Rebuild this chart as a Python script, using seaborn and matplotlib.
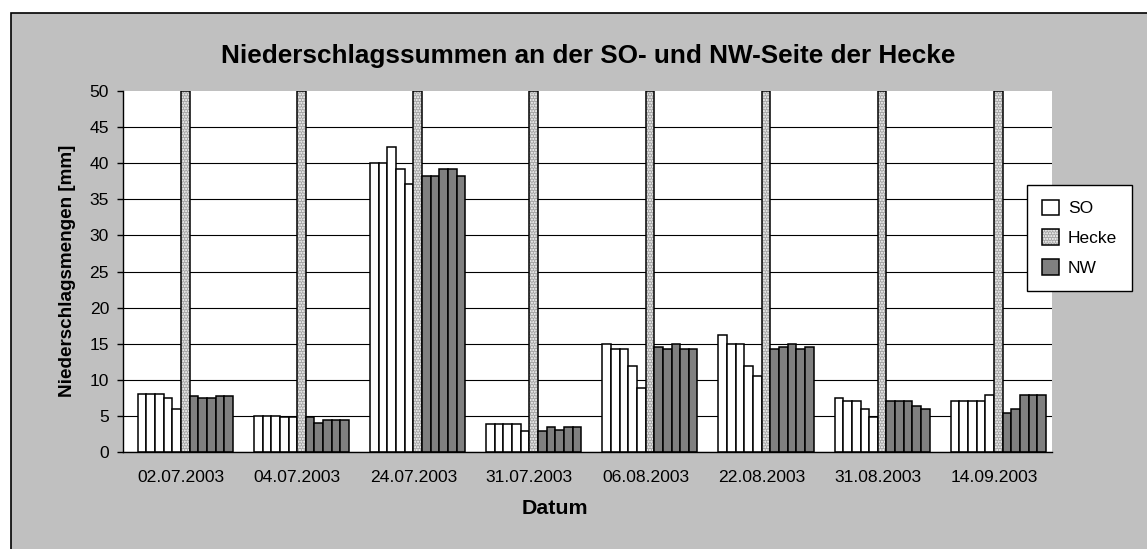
import matplotlib
matplotlib.use("Agg")
import matplotlib.pyplot as plt
import pandas as pd
import seaborn as sns
from matplotlib.patches import Rectangle, Patch

# ---------------- data ----------------
dates = ["02.07.2003", "04.07.2003", "24.07.2003", "31.07.2003",
         "06.08.2003", "22.08.2003", "31.08.2003", "14.09.2003"]

so1 = [8.0, 5.0, 40.0, 3.9, 15.0, 16.2, 7.5, 7.1]
so2 = [8.0, 5.0, 40.0, 3.9, 14.2, 15.0, 7.1, 7.1]
so3 = [8.0, 5.0, 42.2, 3.9, 14.2, 15.0, 7.1, 7.1]
so4 = [7.5, 4.8, 39.2, 3.9, 11.9, 11.9, 5.9, 7.1]
so5 = [5.9, 4.8, 37.1, 2.9, 8.9, 10.5, 4.9, 7.9]
hecke = [50, 50, 50, 50, 50, 50, 50, 50]
nw1 = [7.7, 4.8, 38.2, 2.9, 14.6, 14.2, 7.1, 5.4]
nw2 = [7.5, 4.0, 38.2, 3.4, 14.2, 14.6, 7.1, 5.9]
nw3 = [7.5, 4.5, 39.2, 3.1, 15.0, 15.0, 7.1, 7.9]
nw4 = [7.7, 4.5, 39.2, 3.4, 14.2, 14.2, 6.4, 7.9]
nw5 = [7.7, 4.5, 38.2, 3.4, 14.2, 14.6, 5.9, 7.9]
empty = [0, 0, 0, 0, 0, 0, 0, 0]   # unused (empty) series slot

series_names = ["leer", "SO1", "SO2", "SO3", "SO4", "SO5", "Hecke",
                "NW1", "NW2", "NW3", "NW4", "NW5"]
series_values = [empty, so1, so2, so3, so4, so5, hecke, nw1, nw2, nw3, nw4, nw5]

legend_labels = ["SO", "Hecke", "NW"]
yticks = [0, 5, 10, 15, 20, 25, 30, 35, 40, 45, 50]

# ---------------- styling ----------------
C_BG = "#c0c0c0"
C_SO = "#ffffff"
C_HECKE = "#a4a4a4"
C_NW = "#808080"

sns.set_style("white")
plt.rcParams["font.family"] = ["Liberation Sans", "DejaVu Sans"]
plt.rcParams["hatch.linewidth"] = 1.0
for k in ["text.color", "axes.labelcolor", "xtick.color", "ytick.color"]:
    plt.rcParams[k] = "black"

rows = []
for name, vals in zip(series_names, series_values):
    for d, v in zip(dates, vals):
        rows.append({"Datum": d, "Serie": name, "Wert": v})
df = pd.DataFrame(rows)

palette = {}
for n in series_names:
    if n.startswith("SO") or n == "leer":
        palette[n] = C_SO
    elif n == "Hecke":
        palette[n] = C_HECKE
    else:
        palette[n] = C_NW

W, H = 1147, 549
fig = plt.figure(figsize=(W / 100, H / 100), dpi=100, facecolor="white")
fig.add_artist(Rectangle((11 / W, -0.05), 1.2, 1 - 13 / H + 0.05,
                         transform=fig.transFigure, facecolor=C_BG,
                         edgecolor="black", linewidth=1.2, zorder=-5))

ax = fig.add_axes([123 / W, 1 - 452 / H, (1052 - 123) / W, (452 - 91) / H])
ax.set_facecolor("white")

sns.barplot(data=df, x="Datum", y="Wert", hue="Serie", order=dates,
            hue_order=series_names, palette=palette, saturation=1,
            width=0.894, dodge=True, errorbar=None, legend=False,
            edgecolor="black", linewidth=1.1, ax=ax, zorder=3)

def white_hatch(p):
    try:
        p.set_hatchcolor("white")
    except AttributeError:
        p._hatch_color = (1, 1, 1, 1)

# remove the empty slot bars, hatch the hedge bars
for p in list(ax.containers[0]):
    p.remove()
for p in ax.containers[6]:
    p.set_hatch("......")
    p.set_edgecolor("black")
    white_hatch(p)

ax.set_ylim(0, 50)
ax.set_xlim(-0.5, len(dates) - 0.5)
ax.set_yticks(yticks)
ax.set_yticklabels([str(t) for t in yticks])
ax.set_xticks([i - 0.5 for i in range(len(dates) + 1)])
ax.set_xticklabels([])
ax.set_xticks(range(len(dates)), minor=True)
ax.set_xticklabels(dates, minor=True)
ax.tick_params(axis="x", which="major", direction="out", length=4, width=1, color="black")
ax.tick_params(axis="x", which="minor", length=0, pad=13, labelsize=12.6, labelcolor="black")
ax.tick_params(axis="y", direction="out", length=4, width=1, color="black",
               pad=6, labelsize=12.6, left=True, labelcolor="black")
ax.set_xlabel("")
ax.set_ylabel("")

ax.yaxis.grid(True, color="black", linewidth=0.8)
ax.xaxis.grid(False)
ax.set_axisbelow(True)
gl = ax.yaxis.get_gridlines()
gl[-1].set_visible(False)

for s in ["top", "right"]:
    ax.spines[s].set_visible(False)
for s in ["left", "bottom"]:
    ax.spines[s].set_color("black")
    ax.spines[s].set_linewidth(1)
    ax.spines[s].set_zorder(5)

fig.text(588 / W, 1 - 56 / H, "Niederschlagssummen an der SO- und NW-Seite der Hecke",
         ha="center", va="center", fontsize=18.8, fontweight="bold", color="black")
fig.text(555 / W, 1 - 509 / H, "Datum", ha="center", va="center",
         fontsize=15.4, fontweight="bold", color="black")
fig.text(67 / W, 1 - 271 / H, "Niederschlagsmengen [mm]", ha="center", va="center",
         rotation=90, fontsize=13.6, fontweight="bold", color="black")

h_so = Patch(facecolor=C_SO, edgecolor="black", linewidth=1.1)
h_he = Patch(facecolor=C_HECKE, edgecolor="black", linewidth=1.1, hatch="......")
h_nw = Patch(facecolor=C_NW, edgecolor="black", linewidth=1.1)
leg = fig.legend([h_so, h_he, h_nw], legend_labels, loc="upper left",
                 bbox_to_anchor=(1027 / W, 1 - 185 / H), fontsize=12.5,
                 frameon=True, fancybox=False, shadow=False, framealpha=1,
                 edgecolor="black", facecolor="white", handlelength=1.0,
                 handleheight=1.0, handletextpad=0.5, labelspacing=0.75,
                 borderpad=0.85, borderaxespad=0)
leg.get_frame().set_linewidth(1)
for t in leg.get_texts():
    t.set_color("black")
for hp in leg.get_patches():
    if hp.get_hatch():
        white_hatch(hp)

fig.savefig("out.png", dpi=100)
